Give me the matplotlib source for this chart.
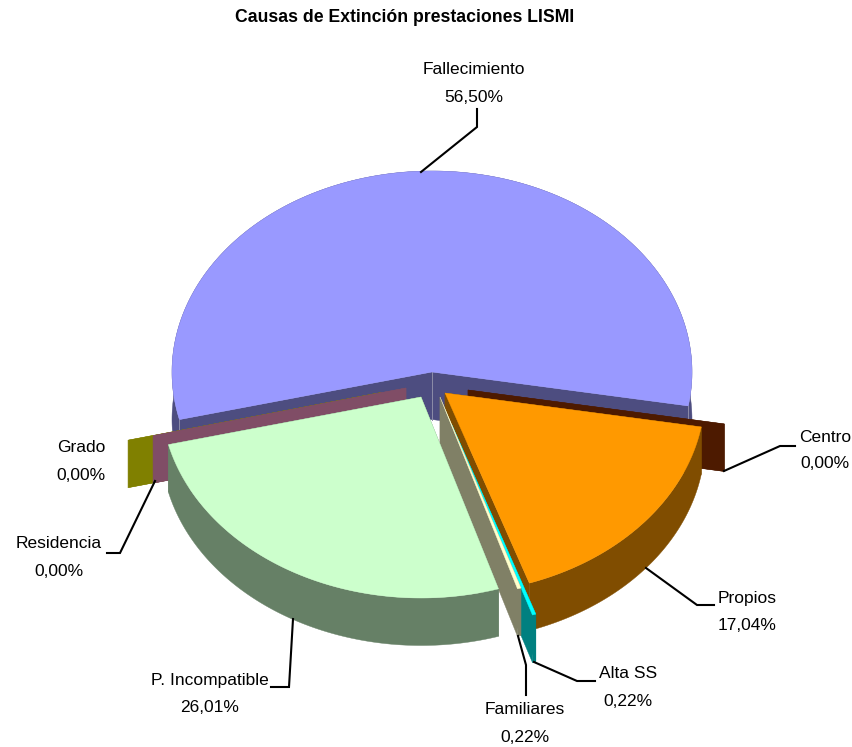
import numpy as np
import matplotlib
matplotlib.use('Agg')
import matplotlib.pyplot as plt
from matplotlib.patches import Polygon

causes = ['Fallecimiento', 'Centro', 'Propios', 'Alta SS', 'Familiares',
          'P. Incompatible', 'Residencia', 'Grado']
values = [56.50, 0.00, 17.04, 0.22, 0.22, 26.01, 0.00, 0.00]

top_colors = ['#9999FF', '#993300', '#FF9900', '#00FFFF', '#FFFFCC', '#CCFFCC', '#993366', '#808000']
wall_colors = ['#4D4D80', '#4D1A00', '#804D00', '#008080', '#808066', '#668066', '#804D66', '#808000']

# pie geometry, in picture pixels
CX, CY = 432, 372
RX, RY = 260, 201
DEPTH = 47.5
START = 166.3
offsets = {'Fallecimiento': (0, 0), 'Centro': (36, 18), 'Propios': (13, 21), 'Alta SS': (19.5, 52),
           'Familiares': (8, 25), 'P. Incompatible': (-11, 25), 'Residencia': (-26, 16), 'Grado': (-51, 20.5)}
draw_order = ['Fallecimiento', 'Grado', 'Residencia', 'Centro', 'Propios', 'Alta SS', 'Familiares', 'P. Incompatible']

# label position: (x centre, y name, y value), leader: points from the pie out to the label
label_pos = {'Fallecimiento': (474, 70, 98), 'Centro': (825, 438, 463), 'Propios': (747, 598, 625),
             'Alta SS': (628, 673, 702), 'Familiares': (525, 709, 737), 'P. Incompatible': (210, 680, 708),
             'Residencia': (59, 544, 572), 'Grado': (81, 448, 476)}
leaders = {'Fallecimiento': [(421, 172), (477, 127), (477, 109)],
           'Centro': [(724, 471), (780, 446), (795, 446)],
           'Propios': [(646, 568), (697, 605), (714, 605)],
           'Alta SS': [(534, 662), (577, 681), (595, 681)],
           'Familiares': [(518, 636), (526, 665), (526, 695)],
           'P. Incompatible': [(293, 619), (289, 687), (271, 687)],
           'Residencia': [(155, 481), (120, 553), (107, 553)]}

plt.rcParams['font.family'] = ['Liberation Sans', 'DejaVu Sans']

fig = plt.figure(figsize=(8.53, 7.47), dpi=100)
ax = fig.add_axes([0, 0, 1, 1])
ax.set_xlim(0, 853)
ax.set_ylim(747, 0)
ax.axis('off')


def point(angle, ox, oy):
    return CX + ox + RX * np.cos(np.radians(angle)), CY + oy + RY * np.sin(np.radians(angle))


# angles run clockwise on screen
spans = {}
a = START
total = sum(values)
for c, v in zip(causes, values):
    spans[c] = (a, a + v / total * 360)
    a = spans[c][1]

for c in draw_order:
    i = causes.index(c)
    a1, a2 = spans[c]
    ox, oy = offsets[c]
    tip = (CX + ox, CY + oy)
    angles = np.linspace(a1, a2, max(int(a2 - a1) * 2, 2))
    xs = CX + ox + RX * np.cos(np.radians(angles))
    ys = CY + oy + RY * np.sin(np.radians(angles))
    arc = list(zip(xs, ys))
    arc_low = [(x, y + DEPTH) for x, y in arc]
    wall = wall_colors[i]
    for end in (a1, a2):
        p = point(end, ox, oy)
        ax.add_patch(Polygon([tip, p, (p[0], p[1] + DEPTH), (tip[0], tip[1] + DEPTH)],
                             facecolor=wall, edgecolor=wall, lw=0.3))
    ax.add_patch(Polygon(arc + arc_low[::-1], facecolor=wall, edgecolor=wall, lw=0.3))
    if c == 'Fallecimiento':
        for p in (tip, point(a1, ox, oy), point(a2, ox, oy)):
            ax.plot([p[0], p[0]], [p[1], p[1] + DEPTH], color='#8C8CA8', lw=0.7, zorder=1)
    if values[i] > 0:
        ax.add_patch(Polygon([tip] + arc, facecolor=top_colors[i], edgecolor=top_colors[i], lw=0.3))

for c, pts in leaders.items():
    ax.plot([p[0] for p in pts], [p[1] for p in pts], color='black', lw=1.5, solid_joinstyle='miter')

for c, v in zip(causes, values):
    x, y1, y2 = label_pos[c]
    ax.text(x, y1, c, ha='center', va='center', fontsize=12.5)
    ax.text(x, y2, f'{v:.2f}%'.replace('.', ','), ha='center', va='center', fontsize=12.5)

ax.text(405, 18, 'Causas de Extinción prestaciones LISMI', ha='center', va='center',
        fontsize=12.7, fontweight='bold')

fig.savefig('out.png', dpi=100)
